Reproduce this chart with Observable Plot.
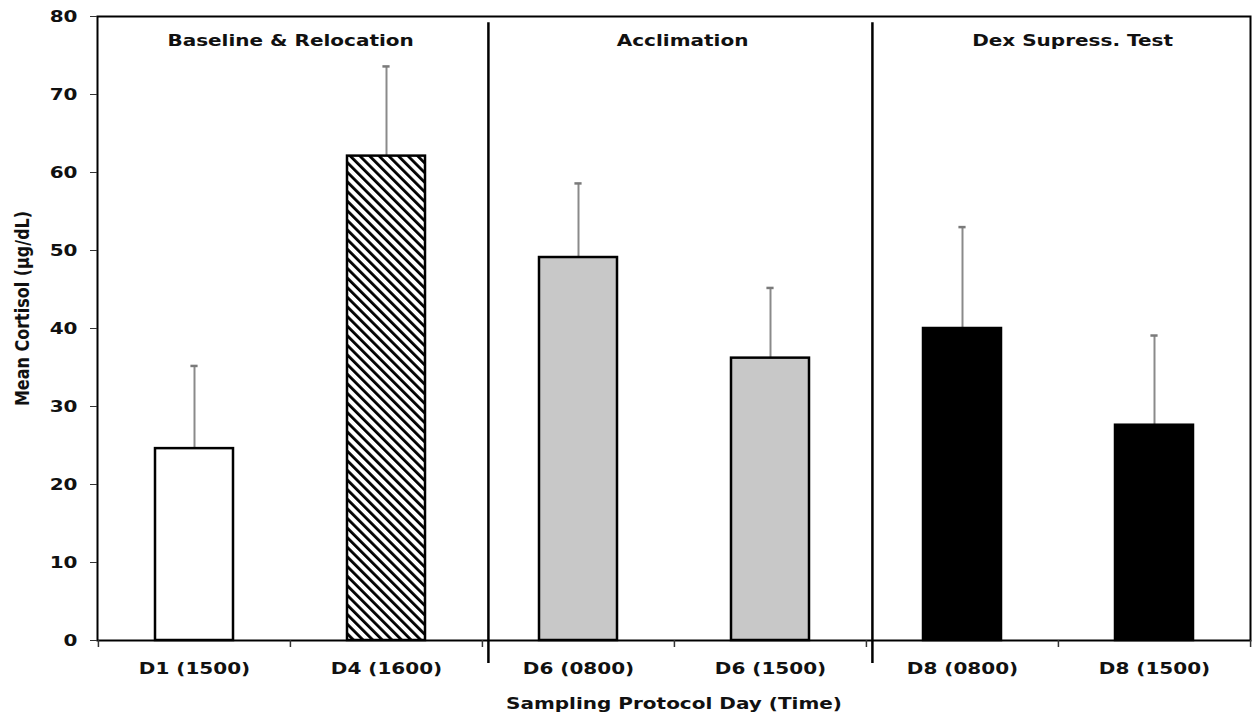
<!DOCTYPE html>
<html>
<head>
<meta charset="utf-8">
<script src="https://cdn.jsdelivr.net/npm/d3@7"></script>
<script src="https://cdn.jsdelivr.net/npm/@observablehq/plot@0.6"></script>
<style>
  html, body { margin: 0; padding: 0; background: #fff; }
</style>
</head>
<body>
<div id="chart"></div>
<script>
// Sampling days (with clock time) and mean cortisol ± error
const days = ["D1 (1500)", "D4 (1600)", "D6 (0800)", "D6 (1500)", "D8 (0800)", "D8 (1500)"];
const meanCortisol = [24.6, 62.1, 49.1, 36.2, 40.0, 27.6];
const errorCortisol = [10.6, 11.5, 9.5, 9.0, 13.0, 11.5];

// Protocol phases: name and first day of each phase
const phases = ["Baseline & Relocation", "Acclimation", "Dex Supress. Test"];
const phaseStarts = ["D1 (1500)", "D6 (0800)", "D8 (0800)"];

const yTicks = [0, 10, 20, 30, 40, 50, 60, 70, 80];

// Bar fills per day (hatched, light grey, black by phase)
const barFills = ["#ffffff", "url(#hatch)", "#c8c8c8", "#c8c8c8", "#000000", "#000000"];

const data = days.map((day, i) => ({
  day,
  mean: meanCortisol[i],
  top: meanCortisol[i] + errorCortisol[i],
  fill: barFills[i]
}));

const W = 1256, H = 718;
const mLeft = 97, mRight = 6, mTop = 16, mBottom = 78;
const step = (W - mLeft - mRight) / days.length;
const barPad = 0.595;
const bandW = step * (1 - barPad);
const capW = 7;
const phaseLabelShift = [0, 8, 14];

const marks = [
  Plot.frame({stroke: "#000", strokeWidth: 2}),
  // phase dividers, running slightly past the x axis
  Plot.ruleX(phaseStarts.slice(1), {x: d => d, dx: -step / 2 + 6, y1: -2.95, y2: 79.2, stroke: "#000", strokeWidth: 2.5}),
  // category boundary ticks below the x axis
  Plot.ruleX(days, {x: d => d, dx: -step / 2, y1: 0, y2: -0.9, stroke: "#333", strokeWidth: 1.5}),
  Plot.ruleX(days.slice(-1), {x: d => d, dx: step / 2, y1: 0, y2: -0.9, stroke: "#333", strokeWidth: 1.5}),
  // error bars
  Plot.ruleX(data, {x: "day", y1: "mean", y2: "top", stroke: "#8a8a8a", strokeWidth: 2}),
  Plot.tickY(data, {x: "day", y: "top", stroke: "#7a7a7a", strokeWidth: 2.5,
    insetLeft: (bandW - capW) / 2, insetRight: (bandW - capW) / 2}),
  // bars
  Plot.barY(data, {x: "day", y: "mean", fill: "fill", stroke: "#000", strokeWidth: 2.5}),
  Plot.axisY({ticks: yTicks, tickSize: 7, tickPadding: 13, label: null, tickFormat: d => String(d), stroke: "#333"}),
  Plot.axisX({tickSize: 0, tickPadding: 22, label: null}),
  Plot.text(["Sampling Protocol Day (Time)"], {frameAnchor: "bottom", dy: 63, lineAnchor: "middle", fill: "#111"}),
  Plot.text(["Mean Cortisol (µg/dL)"], {frameAnchor: "left", textAnchor: "middle", rotate: -90, dx: -75, dy: -20, lineAnchor: "middle", fill: "#111"}),
  ...phases.map((name, i) =>
    Plot.text([name], {x: () => phaseStarts[i], frameAnchor: "top", dx: step / 2 + phaseLabelShift[i], dy: 24, lineAnchor: "middle", fill: "#111"})
  )
];

const chart = Plot.plot({
  width: W,
  height: H,
  marginLeft: mLeft,
  marginRight: mRight,
  marginTop: mTop,
  marginBottom: mBottom,
  style: {
    fontFamily: "'DejaVu Sans', Verdana, sans-serif",
    fontSize: "16px",
    fontWeight: "bold",
    color: "#111",
    background: "#fff"
  },
  x: {domain: days, paddingInner: barPad, paddingOuter: barPad / 2},
  y: {domain: [0, 80]},
  color: {type: "identity"},
  marks
});

// diagonal hatch used by the relocation bar
const ns = "http://www.w3.org/2000/svg";
const defs = document.createElementNS(ns, "defs");
const pattern = document.createElementNS(ns, "pattern");
pattern.setAttribute("id", "hatch");
pattern.setAttribute("patternUnits", "userSpaceOnUse");
pattern.setAttribute("width", "6.8");
pattern.setAttribute("height", "6.8");
pattern.setAttribute("patternTransform", "rotate(-45)");
const bg = document.createElementNS(ns, "rect");
bg.setAttribute("width", "6.8");
bg.setAttribute("height", "6.8");
bg.setAttribute("fill", "#fff");
const stripe = document.createElementNS(ns, "rect");
stripe.setAttribute("x", "0");
stripe.setAttribute("width", "2.8");
stripe.setAttribute("height", "6.8");
stripe.setAttribute("fill", "#000");
pattern.appendChild(bg);
pattern.appendChild(stripe);
defs.appendChild(pattern);
chart.insertBefore(defs, chart.firstChild);

// wide lettering: stretch glyphs horizontally on screen
chart.querySelectorAll("text").forEach(t => {
  const tr = t.getAttribute("transform") || "";
  t.setAttribute("transform", tr + (tr.includes("rotate(-90)") ? " scale(1,1.25)" : " scale(1.25,1)"));
});

document.getElementById("chart").appendChild(chart);
</script>
</body>
</html>
